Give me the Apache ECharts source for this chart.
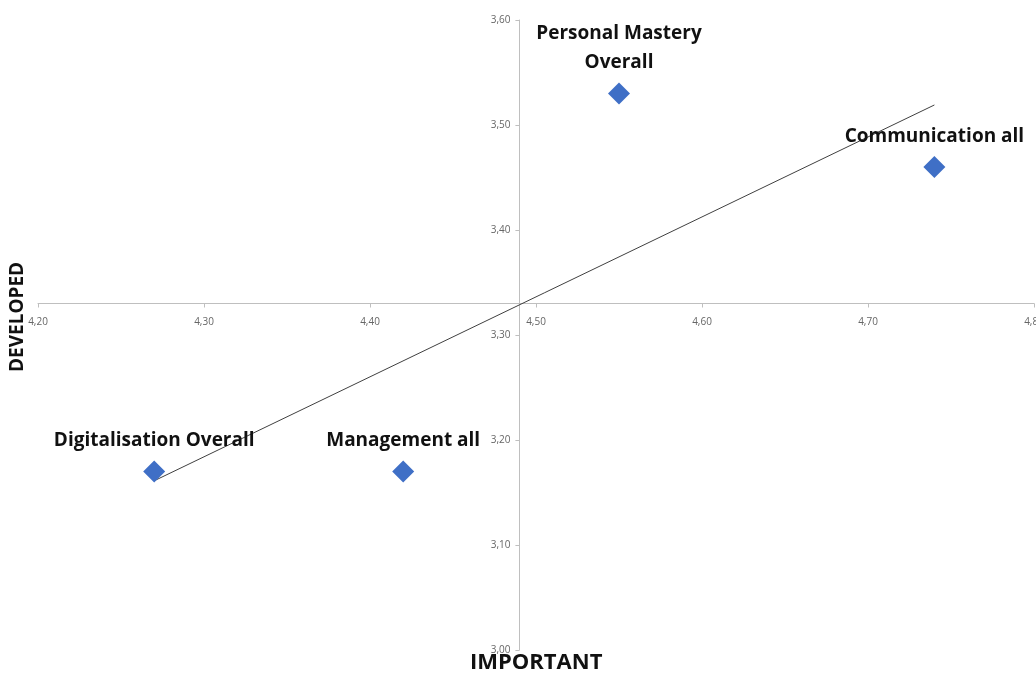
<!DOCTYPE html>
<html>
<head>
<meta charset="utf-8">
<script src="https://cdn.jsdelivr.net/npm/echarts@6/dist/echarts.min.js"></script>
<style>
  html, body { margin: 0; padding: 0; background: #fff; }
  #chart { width: 1036px; height: 680px; }
</style>
</head>
<body>
<div id="chart"></div>
<script>
// data
const labels = ['Digitalisation Overall', 'Management all', 'Personal Mastery\nOverall', 'Communication all'];
const important = [4.27, 4.42, 4.55, 4.74];
const developed = [3.17, 3.17, 3.53, 3.46];
// where the two axes cross
const crossX = 4.49;
const crossY = 3.33;

const points = important.map((x, i) => ({ value: [x, developed[i]], name: labels[i] }));

// linear trendline (least squares) from the points
const n = important.length;
const mx = important.reduce((a, b) => a + b, 0) / n;
const my = developed.reduce((a, b) => a + b, 0) / n;
let sxy = 0, sxx = 0;
important.forEach((x, i) => { sxy += (x - mx) * (developed[i] - my); sxx += (x - mx) * (x - mx); });
const slope = sxy / sxx;
const x0 = Math.min(...important), x1 = Math.max(...important);
const trend = [[x0, my + slope * (x0 - mx)], [x1, my + slope * (x1 - mx)]];

const fmt = v => v.toFixed(2).replace('.', ',');
const tickFont = { color: '#666', fontSize: 10, fontFamily: 'Open Sans' };

var chartDom = document.getElementById('chart');
var myChart = echarts.init(chartDom);

const option = {
    backgroundColor: '#fff',
    animation: false,
    grid: { left: 38, right: 2, top: 20, bottom: 30, containLabel: false, outerBoundsMode: 'none' },
    xAxis: {
        type: 'value',
        min: 4.2, max: 4.8, interval: 0.1,
        position: 'bottom',
        offset: 0,
        axisLine: { show: true, onZero: false, lineStyle: { color: '#bfbfbf', width: 1 } },
        axisTick: { show: true, length: 4, lineStyle: { color: '#bfbfbf' } },
        axisLabel: Object.assign({ formatter: fmt, margin: 14, showMinLabel: true, showMaxLabel: true }, tickFont),
        splitLine: { show: false }
    },
    yAxis: {
        type: 'value',
        min: 3.0, max: 3.6, interval: 0.1,
        position: 'left',
        offset: 0,
        axisLine: { show: true, onZero: false, lineStyle: { color: '#bfbfbf', width: 1 } },
        axisTick: { show: true, length: 4, lineStyle: { color: '#bfbfbf' } },
        axisLabel: Object.assign({ formatter: fmt, margin: 9, showMinLabel: true, showMaxLabel: true }, tickFont),
        splitLine: { show: false }
    },
    series: [
        {
            type: 'line',
            data: trend,
            symbol: 'none',
            lineStyle: { color: '#404040', width: 1 },
            z: 1
        },
        {
            type: 'scatter',
            data: points,
            symbol: 'diamond',
            symbolSize: 22,
            itemStyle: { color: '#3F6FC6', opacity: 1 },
            label: {
                show: true,
                position: 'top',
                distance: 5,
                formatter: p => p.name,
                color: '#111',
                fontFamily: 'Open Sans',
                fontWeight: 'bold',
                fontSize: 19,
                lineHeight: 29,
                align: 'center'
            },
            z: 3
        }
    ],
    graphic: [
        {
            type: 'text',
            left: 470, top: 652,
            style: { text: 'IMPORTANT', fill: '#111', font: 'bold 22px "Open Sans"' }
        },
        {
            type: 'text',
            x: 8, y: 372,
            rotation: Math.PI / 2,
            style: { text: 'DEVELOPED', fill: '#111', font: 'bold 19px "Open Sans"', textAlign: 'left', textVerticalAlign: 'top' }
        }
    ]
};

myChart.setOption(option);

// move the axes so that they cross at (crossX, crossY)
const corner = myChart.convertToPixel({ gridIndex: 0 }, [4.2, 3.0]);
const cross = myChart.convertToPixel({ gridIndex: 0 }, [crossX, crossY]);
myChart.setOption({
    xAxis: { offset: -(corner[1] - cross[1]) },
    yAxis: { offset: -(cross[0] - corner[0]) }
});
</script>
</body>
</html>
